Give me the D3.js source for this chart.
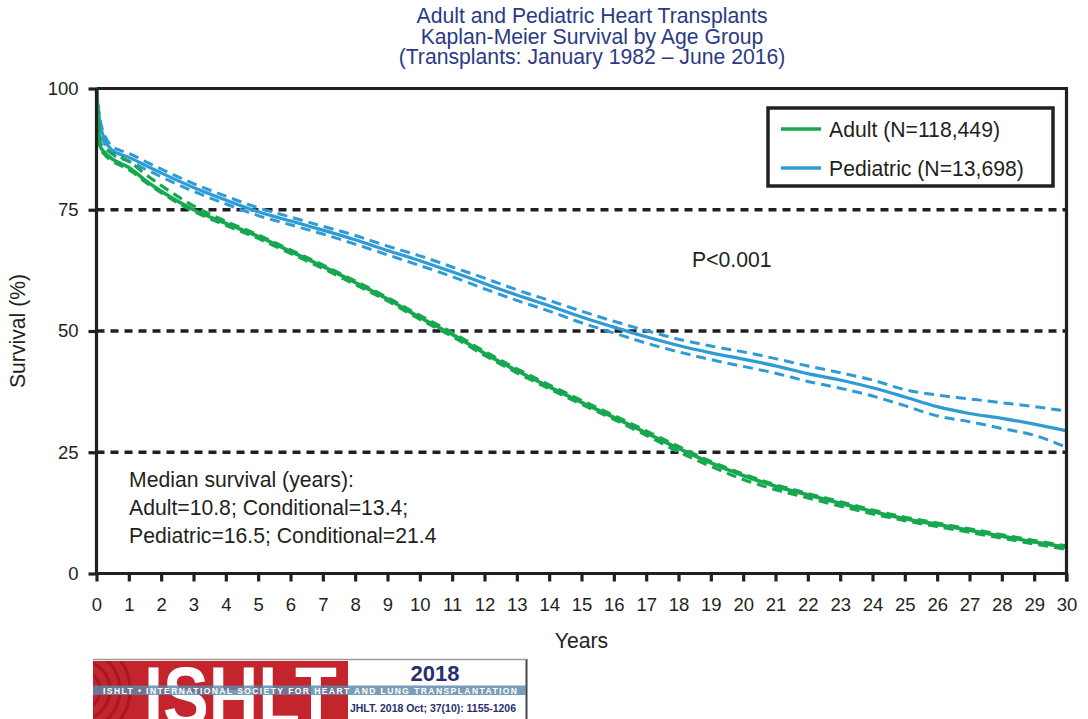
<!DOCTYPE html>
<html>
<head>
<meta charset="utf-8">
<script src="https://cdn.jsdelivr.net/npm/d3@7"></script>
<style>
  html, body { margin: 0; padding: 0; background: #fff; }
  svg { display: block; font-family: "Liberation Sans", Arial, Helvetica, sans-serif; }
</style>
</head>
<body>
<svg id="chart" width="1088" height="719"></svg>
<script>
// Years since transplant at which survival is tabulated
const years = [0, 0.05, 0.12, 0.25, 0.5, 0.75, 1, 1.5, 2, 3, 4, 5, 6, 7, 8, 9, 10,
  11, 12, 13, 14, 15, 16, 17, 18, 19, 20, 21, 22, 23, 24, 25, 26, 27, 28, 29, 30];

// Adult survival (%) with 95% confidence limits
const adultSurv = [100, 93.5, 88.0, 86.8, 85.4, 84.5, 83.7, 81.1, 78.8, 75.0, 72.2, 69.5, 66.4, 63.3, 60.0, 56.6, 52.8,
  49.3, 45.4, 41.8, 38.5, 35.3, 32.2, 29.0, 25.8, 22.8, 20.2, 18.0, 16.2, 14.5, 12.8, 11.3, 10.1, 8.9, 7.7, 6.5, 5.4];
const adultHigh = [100, 94.0, 88.8, 87.8, 86.6, 85.8, 85.0, 82.4, 80.0, 75.8, 72.6, 69.8, 66.7, 63.6, 60.3, 56.9, 53.2,
  49.7, 45.8, 42.2, 38.9, 35.7, 32.6, 29.4, 26.2, 23.1, 20.5, 18.3, 16.5, 14.8, 13.1, 11.6, 10.4, 9.2, 8.0, 6.8, 5.7];
const adultLow = [100, 93.0, 87.6, 86.4, 85.0, 84.1, 83.3, 80.8, 78.5, 74.7, 71.8, 69.1, 66.0, 62.9, 59.6, 56.2, 52.4,
  48.9, 45.0, 41.4, 38.1, 34.9, 31.8, 28.5, 25.1, 22.1, 19.4, 17.3, 15.6, 13.9, 12.3, 10.9, 9.7, 8.5, 7.3, 6.1, 5.0];

// Pediatric survival (%) with 95% confidence limits
const pedSurv = [100, 96.0, 92.5, 89.5, 87.2, 86.4, 85.8, 84.2, 82.6, 79.6, 77.0, 74.6, 72.7, 70.8, 68.8, 66.6, 64.5,
  62.2, 59.8, 57.4, 55.2, 52.9, 50.8, 48.8, 47.0, 45.5, 44.2, 42.8, 41.2, 39.9, 38.3, 36.4, 34.4, 33.0, 32.0, 30.8, 29.4];
const pedHigh = [100, 96.5, 93.3, 90.4, 88.0, 87.2, 86.6, 85.0, 83.4, 80.4, 77.8, 75.4, 73.5, 71.6, 69.7, 67.5, 65.5,
  63.2, 60.9, 58.5, 56.3, 54.1, 52.0, 50.1, 48.3, 46.9, 45.7, 44.3, 42.8, 41.4, 39.9, 37.9, 36.8, 36.0, 35.2, 34.4, 33.5];
const pedLow = [100, 95.5, 91.7, 88.6, 86.4, 85.6, 85.0, 83.4, 81.8, 78.8, 76.2, 73.8, 71.9, 70.0, 67.9, 65.7, 63.5,
  61.2, 58.7, 56.3, 54.1, 51.7, 49.6, 47.5, 45.7, 44.1, 42.7, 41.3, 39.6, 38.2, 36.6, 34.6, 32.5, 31.3, 29.9, 28.5, 26.0];

// Axis ticks and text
const xTicks = d3.range(0, 31);
const yTicks = [0, 25, 50, 75, 100];
const refLines = [25, 50, 75];
const titleLines = ["Adult and Pediatric Heart Transplants",
  "Kaplan-Meier Survival by Age Group",
  "(Transplants: January 1982 \u2013 June 2016)"];
const legendLabels = ["Adult (N=118,449)", "Pediatric (N=13,698)"];
const medianLines = ["Median survival (years):",
  "Adult=10.8; Conditional=13.4;",
  "Pediatric=16.5; Conditional=21.4"];
const pValue = "P<0.001";

const GREEN = "#17a84f";
const BLUE = "#2f9bd5";
const INK = "#231f20";

const svg = d3.select("#chart");
const tickFont = 18.5;
const textFont = 21.2;

const x = d3.scaleLinear().domain([0, 30]).range([96.5, 1066.5]);
const y = d3.scaleLinear().domain([0, 100]).range([573.5, 88.5]);

// Title
svg.append("g").selectAll("text").data(titleLines).join("text")
  .attr("x", 592).attr("y", (d, i) => 23 + i * 20.5)
  .attr("text-anchor", "middle")
  .attr("font-size", textFont)
  .attr("fill", "#2b3a84")
  .text(d => d);

// Reference lines at 25 / 50 / 75 %
svg.append("g").selectAll("line").data(refLines).join("line")
  .attr("x1", x(0)).attr("x2", x(30))
  .attr("y1", d => y(d)).attr("y2", d => y(d))
  .attr("stroke", INK).attr("stroke-width", 3.5)
  .attr("stroke-dasharray", "8,6");

// Survival curves
const line = (vals) => d3.line()
  .x((d, i) => x(years[i]))
  .y(d => y(d))
  .curve(d3.curveMonotoneX)(vals);

const curves = [
  { vals: pedLow, color: BLUE, dash: "10,6", w: 3 },
  { vals: pedHigh, color: BLUE, dash: "10,6", w: 3 },
  { vals: pedSurv, color: BLUE, dash: null, w: 3.2 },
  { vals: adultLow, color: GREEN, dash: "10,6", w: 3.2 },
  { vals: adultHigh, color: GREEN, dash: "10,6", w: 3.2 },
  { vals: adultSurv, color: GREEN, dash: null, w: 3.6 }
];
svg.append("g").selectAll("path").data(curves).join("path")
  .attr("d", d => line(d.vals))
  .attr("fill", "none")
  .attr("stroke", d => d.color)
  .attr("stroke-width", d => d.w)
  .attr("stroke-dasharray", d => d.dash)
  .attr("stroke-linejoin", "round");

// Axes
const xAxis = svg.append("g")
  .attr("transform", `translate(0,${y(0)})`)
  .call(d3.axisBottom(x).tickValues(xTicks).tickSize(8).tickPadding(16).tickFormat(d3.format("d")));
const yAxis = svg.append("g")
  .attr("transform", `translate(${x(0)},0)`)
  .call(d3.axisLeft(y).tickValues(yTicks).tickSize(8).tickPadding(10).tickFormat(d3.format("d")));
[xAxis, yAxis].forEach(g => {
  g.select(".domain").attr("stroke", INK).attr("stroke-width", 3.2);
  g.selectAll(".tick line").attr("stroke", INK).attr("stroke-width", 3.2);
  g.selectAll(".tick text").attr("fill", INK).attr("font-size", tickFont)
    .attr("font-family", "Liberation Sans, Arial, sans-serif");
});
xAxis.select(".domain").attr("d", `M${x(0)},0H${x(30)}`);
yAxis.select(".domain").attr("d", `M0,${y(0)}V${y(100)}`);

// Frame along top and right
svg.append("path")
  .attr("d", `M${x(0)},${y(100)}H${x(30)}V${y(0) + 8}`)
  .attr("fill", "none").attr("stroke", INK).attr("stroke-width", 3.2);

// Axis titles
svg.append("text")
  .attr("transform", `translate(25,${(y(0) + y(100)) / 2}) rotate(-90)`)
  .attr("text-anchor", "middle").attr("font-size", textFont).attr("fill", INK)
  .text("Survival (%)");
svg.append("text")
  .attr("x", (x(0) + x(30)) / 2).attr("y", 648)
  .attr("text-anchor", "middle").attr("font-size", textFont).attr("fill", INK)
  .text("Years");

// Legend
const legend = svg.append("g");
legend.append("rect")
  .attr("x", 768).attr("y", 108).attr("width", 285).attr("height", 78)
  .attr("fill", "#fff").attr("stroke", INK).attr("stroke-width", 3.5);
const legendItems = legend.selectAll("g.item")
  .data(legendLabels.map((t, i) => ({ t, color: [GREEN, BLUE][i], row: i })))
  .join("g").attr("class", "item")
  .attr("transform", d => `translate(0,${129 + d.row * 39})`);
legendItems.append("line")
  .attr("x1", 781).attr("x2", 821).attr("y1", 0).attr("y2", 0)
  .attr("stroke", d => d.color).attr("stroke-width", 3.4);
legendItems.append("text")
  .attr("x", 829).attr("y", 7.5)
  .attr("font-size", textFont).attr("fill", INK)
  .text(d => d.t);

// P value
svg.append("text")
  .attr("x", 692).attr("y", 267)
  .attr("font-size", textFont).attr("fill", INK)
  .text(pValue);

// Median survival note
svg.append("g").selectAll("text").data(medianLines).join("text")
  .attr("x", 129).attr("y", (d, i) => 487 + i * 28)
  .attr("font-size", textFont).attr("fill", INK)
  .text(d => d);

// Society banner
const banner = svg.append("g");
banner.append("line").attr("x1", 93).attr("x2", 528).attr("y1", 659.5).attr("y2", 659.5)
  .attr("stroke", "#9a9a9a").attr("stroke-width", 1.5);
banner.append("defs").append("clipPath").attr("id", "redClip")
  .append("rect").attr("x", 93).attr("y", 661).attr("width", 255).attr("height", 58);
banner.append("rect").attr("x", 93).attr("y", 661).attr("width", 255).attr("height", 58).attr("fill", "#c4242c");
banner.append("g").attr("clip-path", "url(#redClip)")
  .selectAll("circle").data([10, 20, 30, 40, 50]).join("circle")
  .attr("cx", 80).attr("cy", 690).attr("r", d => d)
  .attr("fill", "none").attr("stroke", "#a51a22").attr("stroke-width", 3);
banner.append("rect").attr("x", 348).attr("y", 661).attr("width", 178).attr("height", 58).attr("fill", "#fff");
banner.append("line").attr("x1", 526.5).attr("x2", 526.5).attr("y1", 660).attr("y2", 719)
  .attr("stroke", "#444").attr("stroke-width", 2);
banner.append("g").attr("clip-path", "url(#redClip)")
  .append("text")
  .attr("x", 144).attr("y", 725)
  .attr("font-size", 84).attr("font-weight", "bold").attr("fill", "#fff")
  .attr("textLength", 193).attr("lengthAdjust", "spacingAndGlyphs")
  .text("ISHLT");
banner.append("rect").attr("x", 93).attr("y", 685.5).attr("width", 433).attr("height", 9.5)
  .attr("fill", "#5d89aa").attr("opacity", 0.82);
banner.append("text")
  .attr("x", 103).attr("y", 693.5)
  .attr("font-size", 8.5).attr("font-weight", "bold").attr("fill", "#fff")
  .attr("textLength", 414).attr("lengthAdjust", "spacing")
  .text("ISHLT \u2022 INTERNATIONAL SOCIETY FOR HEART AND LUNG TRANSPLANTATION");
banner.append("text")
  .attr("x", 435).attr("y", 681)
  .attr("text-anchor", "middle")
  .attr("font-size", 22).attr("font-weight", "bold").attr("fill", "#2a2d6e")
  .text("2018");
banner.append("text")
  .attr("x", 350).attr("y", 712)
  .attr("font-size", 10).attr("font-weight", "bold").attr("fill", "#2a2d6e")
  .attr("textLength", 166).attr("lengthAdjust", "spacingAndGlyphs")
  .text("JHLT. 2018 Oct; 37(10): 1155-1206");
</script>
</body>
</html>
